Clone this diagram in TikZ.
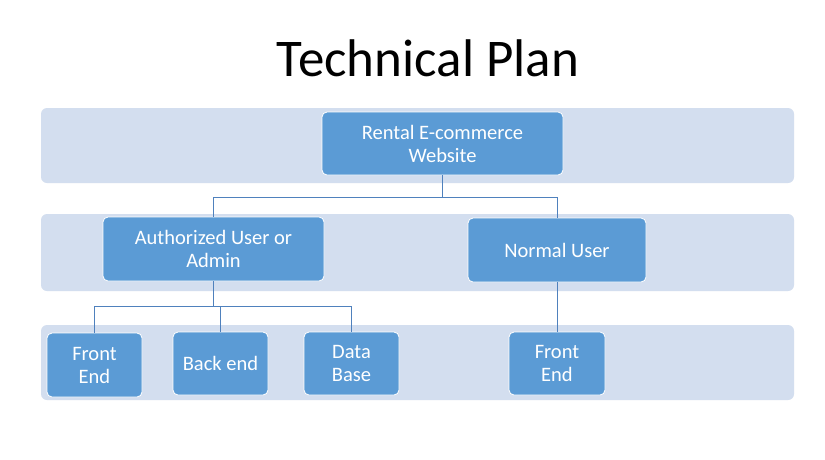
\documentclass[tikz,border=0pt]{standalone}
\usepackage{fontspec}
\setmainfont{Carlito}
\definecolor{bandc}{HTML}{D3DEEF}
\definecolor{boxc}{HTML}{5B9BD5}
\definecolor{linec}{HTML}{4F81BD}
\begin{document}
\begin{tikzpicture}[x=1pt,y=-1pt,
  band/.style={fill=bandc, draw=none, rounded corners=6pt},
  box/.style={fill=boxc, draw=white, line width=0.8pt, rounded corners=5pt, text=white,
    font=\fontsize{20.5}{23}\selectfont, align=center, inner sep=0pt},
  conn/.style={draw=linec, line width=1pt}]
\useasboundingbox (0,0) rectangle (825,459);
\fill[white] (0,0) rectangle (825,459);
\node[font=\fontsize{53}{60}\selectfont] (title) at (428,58) {Technical Plan};
\path[band] (41,108) rectangle (794,183);
\path[band] (41,214) rectangle (794,291);
\path[band] (41,325) rectangle (794,400);
\node[box, minimum width=241pt, minimum height=63pt] (root) at (442.5,143.5) {Rental E-commerce\\Website};
\node[box, minimum width=221pt, minimum height=64pt] (auth) at (213.5,249) {Authorized User or\\Admin};
\node[box, minimum width=178pt, minimum height=64pt] (normal) at (557,250) {Normal User};
\node[box, minimum width=95pt, minimum height=64pt] (fe1) at (94.5,365) {Front\\End};
\node[box, minimum width=95pt, minimum height=63pt] (be) at (220.5,363.5) {Back end};
\node[box, minimum width=95pt, minimum height=63pt] (db) at (351.5,363.5) {Data\\Base};
\node[box, minimum width=96pt, minimum height=63pt] (fe2) at (557,363.5) {Front\\End};
\coordinate (j1) at (442.5,197);
\coordinate (j2) at (213.5,306);
\draw[conn] (root.south) -- (j1) -| (auth.north);
\draw[conn] (j1) -| (normal.north);
\draw[conn] (auth.south) -- (j2) -| (fe1.north);
\draw[conn] (j2) -| (be.north);
\draw[conn] (j2) -| (db.north);
\draw[conn] (normal.south) -- (fe2.north);
\end{tikzpicture}
\end{document}
